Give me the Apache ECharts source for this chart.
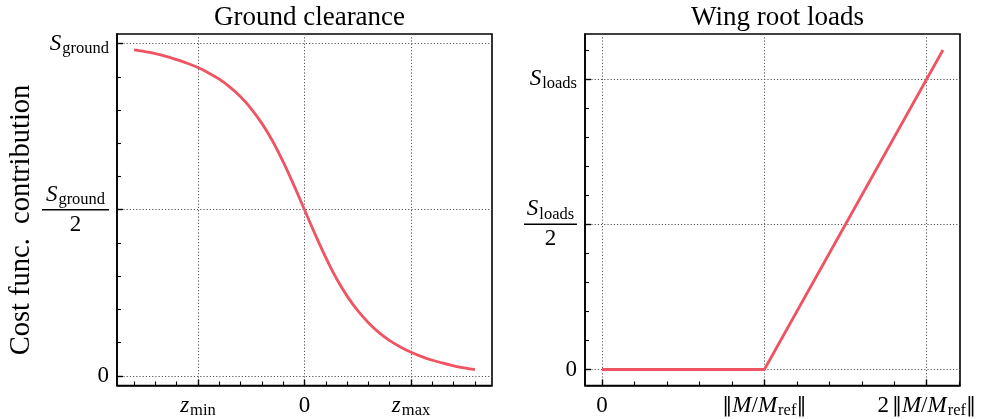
<!DOCTYPE html>
<html>
<head>
<meta charset="utf-8">
<script src="https://cdn.jsdelivr.net/npm/echarts@6/dist/echarts.min.js"></script>
<style>
  html, body { margin: 0; padding: 0; background: #fff; }
  #chart { width: 981px; height: 419px; }
</style>
</head>
<body>
<div id="chart"></div>
<script>
// Ground clearance contribution versus normalised height z (z_min = -1, z_max = 1)
const groundZ = [-1.6, -1.5, -1.4, -1.3, -1.2, -1.1, -1.0, -0.9, -0.8, -0.7, -0.6, -0.5, -0.4, -0.3, -0.2, -0.1,
                 0.0, 0.1, 0.2, 0.3, 0.4, 0.5, 0.6, 0.7, 0.8, 0.9, 1.0, 1.1, 1.2, 1.3, 1.4, 1.5, 1.6];
const groundCost = [0.981, 0.976, 0.970, 0.962, 0.952, 0.941, 0.928, 0.912, 0.893, 0.869, 0.840, 0.804, 0.760, 0.707, 0.644, 0.574,
                    0.500, 0.426, 0.356, 0.293, 0.240, 0.196, 0.160, 0.130, 0.106, 0.087, 0.071, 0.058, 0.047, 0.038, 0.030, 0.024, 0.019];

// Wing root loads contribution versus bending moment ratio (1 = ||M/M_ref||)
const loadsM = [0.0, 1.0, 2.1];
const loadsCost = [0.0, 0.0, 1.1];

// Tick positions and their labels
const groundXTicks = [-1, 0, 1];
const groundXLabels = ['{i|z}{sub|min}', '{n|0}', '{i|z}{sub|max}'];
const groundXMinor = [-1.6, -1.4, -1.2, -0.8, -0.6, -0.4, -0.2, 0.2, 0.4, 0.6, 0.8, 1.2, 1.4, 1.6];
const groundYTicks = [0, 0.5, 1];
const groundYLabels = ['{n|0}', '{fi|S}{fsub|ground}\n{barG| }\n{fn|2}', '{i|S}{sub|ground}'];
const groundYMinor = [0.1, 0.2, 0.3, 0.4, 0.6, 0.7, 0.8, 0.9];

const loadsXTicks = [0, 1, 2];
const loadsXLabels = ['{n|0}', '{bars|‖}{i|M}{n|/}{i|M}{sub|ref}{bars|‖}', '{n|2}{barsGap|‖}{i|M}{n|/}{i|M}{sub|ref}{bars|‖}'];
const loadsXMinor = [0.2, 0.4, 0.6, 0.8, 1.2, 1.4, 1.6, 1.8, 2.2];
const loadsYTicks = [0, 0.5, 1];
const loadsYLabels = ['{n|0}', '{fi|S}{fsub|loads}\n{barL| }\n{fn|2}', '{i|S}{sub|loads}'];
const loadsYMinor = [0.1, 0.2, 0.3, 0.4, 0.6, 0.7, 0.8, 0.9, 1.1];

const titles = ['Ground clearance', 'Wing root loads'];
const yName = 'Cost func.  contribution';

const SERIF = "'Liberation Serif', 'DejaVu Serif', serif";
const LINE_RED = '#EE5461';
const FS = 23;
const SUB = 16.5;

const rich = {
  n:       { fontFamily: SERIF, fontSize: FS, lineHeight: 28, color: '#000' },
  i:       { fontFamily: SERIF, fontSize: FS, fontStyle: 'italic', lineHeight: 28, color: '#000' },
  bars:    { fontFamily: "'DejaVu Serif', serif", fontSize: 20, lineHeight: 28, color: '#000' },
  barsGap: { fontFamily: "'DejaVu Serif', serif", fontSize: 20, lineHeight: 28, padding: [0, 0, 0, 3], color: '#000' },
  sub:     { fontFamily: SERIF, fontSize: SUB, lineHeight: 28, padding: [10, 0, 0, 1], color: '#000' },
  fi:      { fontFamily: SERIF, fontSize: FS, fontStyle: 'italic', lineHeight: 25, align: 'center', color: '#000' },
  fsub:    { fontFamily: SERIF, fontSize: SUB, lineHeight: 25, padding: [10, 0, 0, 1], align: 'center', color: '#000' },
  fn:      { fontFamily: SERIF, fontSize: FS, lineHeight: 25, align: 'center', color: '#000' },
  barG:    { fontSize: 1, width: 67, height: 1.3, lineHeight: 5, backgroundColor: '#000', align: 'center' },
  barL:    { fontSize: 1, width: 53, height: 1.3, lineHeight: 5, backgroundColor: '#000', align: 'center' }
};

// matplotlib-style data margins: 5 % of the data span on each side
function padded(arr) {
  const lo = Math.min(...arr), hi = Math.max(...arr), m = (hi - lo) * 0.05;
  return [lo - m, hi + m];
}

function labeller(ticks, labels) {
  return v => {
    const k = ticks.findIndex(t => Math.abs(t - v) < 1e-9);
    return k < 0 ? '' : labels[k];
  };
}

const frameLine = { show: true, onZero: false, lineStyle: { color: '#000', width: 1.6 } };
const gridDots = { show: true, lineStyle: { color: '#555', width: 1, type: [1.2, 2] } };

function majorAxis(kind, gridIndex, range, ticks, labels, margin) {
  return {
    type: 'value', gridIndex, min: range[0], max: range[1],
    position: kind === 'x' ? 'bottom' : 'left',
    axisLine: frameLine,
    axisTick: { show: true, inside: true, length: 6, customValues: ticks, lineStyle: { color: '#000', width: 1.4 } },
    axisLabel: { show: true, customValues: ticks, margin, formatter: labeller(ticks, labels), rich,
                 fontFamily: SERIF, fontSize: FS, color: '#000' },
    splitLine: gridDots,
    minorTick: { show: false }
  };
}

function minorAxis(kind, gridIndex, range, ticks) {
  return {
    type: 'value', gridIndex, min: range[0], max: range[1],
    position: kind === 'x' ? 'bottom' : 'left',
    axisLine: { show: false, onZero: false },
    axisTick: { show: true, inside: true, length: 4, customValues: ticks, lineStyle: { color: '#000', width: 1.1 } },
    axisLabel: { show: false },
    splitLine: { show: false }
  };
}

const gX = padded(groundZ), gY = padded(groundCost);
const lX = padded(loadsM), lY = padded(loadsCost);

const chart = echarts.init(document.getElementById('chart'), null, { renderer: 'canvas' });

const titleStyle = { fontFamily: SERIF, fontSize: 27, fontWeight: 'normal', color: '#000' };

chart.setOption({
  animation: false,
  backgroundColor: '#fff',
  title: [
    { text: titles[0], left: 304.5, top: -1, textAlign: 'center', textStyle: titleStyle },
    { text: titles[1], left: 772.5, top: -1, textAlign: 'center', textStyle: titleStyle }
  ],
  graphic: [{
    type: 'text', x: 22, y: 220, rotation: Math.PI / 2,
    style: { text: yName, fontFamily: SERIF, fontSize: 28.5, fill: '#000', align: 'center', verticalAlign: 'middle' }
  }],
  grid: [
    { left: 117, top: 34, width: 375, height: 352, show: true, borderColor: '#000', borderWidth: 1.6, containLabel: false },
    { left: 585, top: 34, width: 375, height: 352, show: true, borderColor: '#000', borderWidth: 1.6, containLabel: false }
  ],
  xAxis: [
    majorAxis('x', 0, gX, groundXTicks, groundXLabels, 6),
    minorAxis('x', 0, gX, groundXMinor),
    majorAxis('x', 1, lX, loadsXTicks, loadsXLabels, 6),
    minorAxis('x', 1, lX, loadsXMinor)
  ],
  yAxis: [
    majorAxis('y', 0, gY, groundYTicks, groundYLabels, 8),
    minorAxis('y', 0, gY, groundYMinor),
    majorAxis('y', 1, lY, loadsYTicks, loadsYLabels, 8),
    minorAxis('y', 1, lY, loadsYMinor)
  ],
  series: [
    { type: 'line', xAxisIndex: 0, yAxisIndex: 0, showSymbol: false, smooth: 0.3,
      data: groundZ.map((z, k) => [z, groundCost[k]]),
      lineStyle: { color: LINE_RED, width: 2.8 }, itemStyle: { color: LINE_RED } },
    { type: 'line', xAxisIndex: 2, yAxisIndex: 2, showSymbol: false, smooth: false,
      data: loadsM.map((m, k) => [m, loadsCost[k]]),
      lineStyle: { color: LINE_RED, width: 2.8 }, itemStyle: { color: LINE_RED } }
  ]
});
</script>
</body>
</html>
